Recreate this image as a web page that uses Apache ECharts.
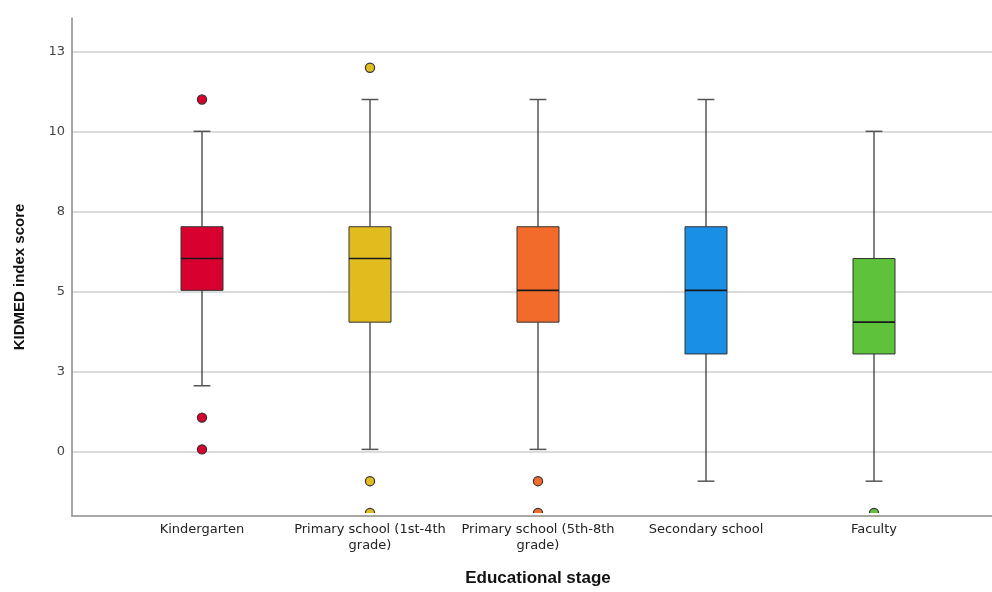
<!DOCTYPE html>
<html>
<head>
<meta charset="utf-8">
<script src="https://cdn.jsdelivr.net/npm/echarts@6/dist/echarts.min.js"></script>
<style>html,body{margin:0;padding:0;background:#fff}#c{width:992px;height:592px}</style>
</head>
<body>
<div id="c"></div>
<script>
// ---- data ----
const categories = ['Kindergarten', 'Primary school (1st-4th grade)', 'Primary school (5th-8th grade)', 'Secondary school', 'Faculty'];
const whiskerLow  = [2, 0, 0, -1, -1];
const q1          = [5, 4, 4, 3, 3];
const median      = [6, 6, 5, 5, 4];
const q3          = [7, 7, 7, 7, 6];
const whiskerHigh = [10, 11, 11, 11, 10];
const outliers = [
  [0, 11], [0, 1], [0, 0],
  [1, 12], [1, -1], [1, -2],
  [2, -1], [2, -2],
  [4, -2]
];
const yTicks = [0, 2.5, 5, 7.5, 10, 12.5];

// ---- styles ----
const colors = ['#D7002F', '#E0BC1F', '#F26B2B', '#1A8FE6', '#5EC23A'];

const boxData = categories.map((c, i) => [i, whiskerLow[i], q1[i], median[i], q3[i], whiskerHigh[i]]);

const chart = echarts.init(document.getElementById('c'), null, {renderer: 'canvas'});
const yMin = -2, yMax = 13.5625;

chart.setOption({
  animation: false,
  backgroundColor: '#fff',
  grid: [
    {left: 72, right: 0, top: 52, bottom: 140},   // gridlines + tick labels (0..12.5)
    {left: 118, right: 34, top: 18, bottom: 76},   // data
    {left: 72, right: 0, top: 18, bottom: 76}      // frame
  ],
  graphic: [{
    type: 'text', x: 20, y: 277, rotation: Math.PI / 2,
    style: {text: 'KIDMED index score', align: 'center', verticalAlign: 'middle',
      font: 'bold 15px "Liberation Sans"', fill: '#111'}
  }],
  xAxis: [
    {gridIndex: 0, type: 'value', show: false, min: 0, max: 1},
    {gridIndex: 1, type: 'category', data: categories, boundaryGap: true,
      axisLine: {show: false}, axisTick: {show: false}, splitLine: {show: false},
      axisLabel: {margin: 9, color: '#222', fontFamily: 'DejaVu Sans', fontSize: 13, lineHeight: 16, interval: 0,
        formatter: v => v.replace(' grade)', '\ngrade)')},
      name: 'Educational stage', nameLocation: 'middle', nameGap: 57,
      nameTextStyle: {fontFamily: 'Liberation Sans', fontWeight: 'bold', fontSize: 17, color: '#111'}
    },
    {gridIndex: 2, type: 'value', min: 0, max: 1,
      axisLine: {show: true, lineStyle: {color: '#8a8a8a', width: 1.5}},
      axisTick: {show: false}, axisLabel: {show: false}, splitLine: {show: false}}
  ],
  yAxis: [
    {gridIndex: 0, type: 'value', min: yTicks[0], max: yTicks[yTicks.length - 1], interval: yTicks[1] - yTicks[0],
      axisLine: {show: false}, axisTick: {show: false},
      splitLine: {show: true, lineStyle: {color: '#cfcfcf', width: 1.5}},
      axisLabel: {margin: 7, color: '#444', fontFamily: 'DejaVu Sans', fontSize: 13,
        formatter: v => String(Math.round(v))}},
    {gridIndex: 1, type: 'value', min: yMin, max: yMax, show: false},
    {gridIndex: 2, type: 'value', min: 0, max: 1,
      axisLine: {show: true, lineStyle: {color: '#8a8a8a', width: 1.5}},
      axisTick: {show: false}, axisLabel: {show: false}, splitLine: {show: false}}
  ],
  series: [
    {
      type: 'custom', xAxisIndex: 1, yAxisIndex: 1, clip: true, z: 3,
      data: boxData,
      renderItem: function (params, api) {
        const x = api.value(0);
        const pLo = api.coord([x, api.value(1)]);
        const pQ1 = api.coord([x, api.value(2)]);
        const pMd = api.coord([x, api.value(3)]);
        const pQ3 = api.coord([x, api.value(4)]);
        const pHi = api.coord([x, api.value(5)]);
        const band = api.size([1, 0])[0];
        const bw = band * 0.25;
        const cw = band * 0.1;
        const cx = pMd[0];
        const wStyle = {stroke: '#555', lineWidth: 1.5};
        return {
          type: 'group',
          children: [
            {type: 'line', shape: {x1: cx, y1: pHi[1], x2: cx, y2: pQ3[1]}, style: wStyle},
            {type: 'line', shape: {x1: cx, y1: pQ1[1], x2: cx, y2: pLo[1]}, style: wStyle},
            {type: 'line', shape: {x1: cx - cw / 2, y1: pHi[1], x2: cx + cw / 2, y2: pHi[1]}, style: wStyle},
            {type: 'line', shape: {x1: cx - cw / 2, y1: pLo[1], x2: cx + cw / 2, y2: pLo[1]}, style: wStyle},
            {type: 'rect', shape: {x: cx - bw / 2, y: pQ3[1], width: bw, height: pQ1[1] - pQ3[1]},
              style: {fill: colors[params.dataIndex], stroke: '#333', lineWidth: 1}},
            {type: 'line', shape: {x1: cx - bw / 2, y1: pMd[1], x2: cx + bw / 2, y2: pMd[1]},
              style: {stroke: '#1a1a1a', lineWidth: 1.6}}
          ]
        };
      }
    },
    {
      type: 'custom', xAxisIndex: 1, yAxisIndex: 1, clip: true, z: 4,
      data: outliers,
      renderItem: function (params, api) {
        const p = api.coord([api.value(0), api.value(1)]);
        return {
          type: 'circle', shape: {cx: p[0], cy: p[1], r: 4.6},
          style: {fill: colors[api.value(0)], stroke: '#333', lineWidth: 1.2}
        };
      }
    }
  ]
});
</script>
</body>
</html>
